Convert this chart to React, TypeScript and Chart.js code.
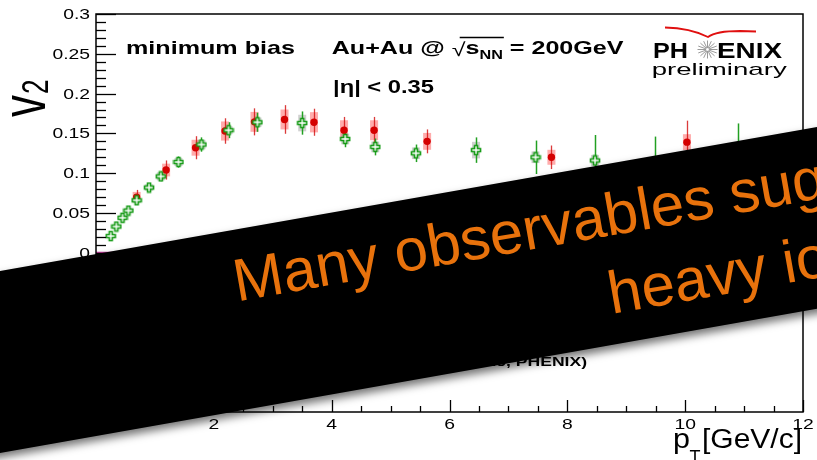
import React, { useEffect, useRef } from "react";
import { Chart, registerables } from "chart.js";
Chart.register(...registerables);

// ---- data ----
const redPt = [0.69, 1.19, 1.69, 2.19, 2.69, 3.2, 3.7, 4.21, 4.72, 5.62, 7.73, 10.03];
const redV2 = [0.07, 0.104, 0.132, 0.153, 0.1645, 0.1675, 0.164, 0.154, 0.154, 0.14, 0.12, 0.139];
const redStat = [0.009, 0.012, 0.0145, 0.016, 0.017, 0.018, 0.017, 0.0167, 0.0167, 0.015, 0.0148, 0.027];
const redSys = [0.0065, 0.008, 0.01, 0.012, 0.0125, 0.0125, 0.0127, 0.0125, 0.0125, 0.0106, 0.0094, 0.01];

const greenPt = [0.25, 0.345, 0.45, 0.55, 0.69, 0.9, 1.1, 1.4, 1.79, 2.25, 2.74, 3.5, 4.23, 4.74, 5.43, 6.45, 7.46, 8.47, 9.48, 10.9];
const greenV2 = [0.021, 0.033, 0.044, 0.053, 0.066, 0.082, 0.096, 0.114, 0.136, 0.154, 0.164, 0.163, 0.143, 0.133, 0.125, 0.129, 0.12, 0.116, 0.112, 0.115];
const greenStat = [0.003, 0.003, 0.003, 0.004, 0.004, 0.005, 0.006, 0.007, 0.009, 0.01, 0.012, 0.0146, 0.0104, 0.0106, 0.011, 0.016, 0.021, 0.032, 0.034, 0.0475];
const greenSys = [0.002, 0.002, 0.003, 0.003, 0.003, 0.004, 0.005, 0.005, 0.006, 0.005, 0.006, 0.0104, 0.0067, 0.0067, 0.0073, 0.0104, 0.0073, 0.007, 0.007, 0.007];

const xTicks = [0, 2, 4, 6, 8, 10, 12];
const xTickLabels = ["0", "2", "4", "6", "8", "10", "12"];
const yTicks = [-0.2, -0.15, -0.1, -0.05, 0, 0.05, 0.1, 0.15, 0.2, 0.25, 0.3];
const yTickLabels = ["-0.2", "-0.15", "-0.1", "-0.05", "0", "0.05", "0.1", "0.15", "0.2", "0.25", "0.3"];

const bannerLine1 = "Many observables suggest";
const bannerLine2 = "heavy ion collisions";

const FONT = "'Liberation Sans', Arial, Helvetica, sans-serif";
const SX = 1.38;

function stretchText(ctx: CanvasRenderingContext2D, text: string, x: number, y: number, font: string, sx: number, align: CanvasTextAlign = "left") {
  ctx.save();
  ctx.font = font;
  ctx.textAlign = align;
  ctx.textBaseline = "alphabetic";
  ctx.translate(x, y);
  ctx.scale(sx, 1);
  ctx.fillText(text, 0, 0);
  ctx.restore();
}

function fitText(ctx: CanvasRenderingContext2D, text: string, x: number, y: number, font: string, width: number) {
  ctx.save();
  ctx.font = font;
  const w = ctx.measureText(text).width;
  ctx.restore();
  stretchText(ctx, text, x, y, font, width / w, "left");
}

function makeCross(): HTMLCanvasElement {
  const c = document.createElement("canvas");
  c.width = 12;
  c.height = 12;
  const g = c.getContext("2d")!;
  const cx = 6, cy = 6, s = 4.5, a = 1.5;
  g.beginPath();
  g.moveTo(cx - a, cy - s);
  g.lineTo(cx + a, cy - s);
  g.lineTo(cx + a, cy - a);
  g.lineTo(cx + s, cy - a);
  g.lineTo(cx + s, cy + a);
  g.lineTo(cx + a, cy + a);
  g.lineTo(cx + a, cy + s);
  g.lineTo(cx - a, cy + s);
  g.lineTo(cx - a, cy + a);
  g.lineTo(cx - s, cy + a);
  g.lineTo(cx - s, cy - a);
  g.lineTo(cx - a, cy - a);
  g.closePath();
  g.fillStyle = "#ffffff";
  g.fill();
  g.strokeStyle = "#149a14";
  g.lineWidth = 1.6;
  g.stroke();
  return c;
}

const decor = {
  id: "decor",
  beforeDatasetsDraw(chart: any) {
    const { ctx, chartArea: a, scales } = chart;
    const xs = scales.x, ys = scales.y;
    ctx.save();
    // zero line
    ctx.strokeStyle = "#c0399a";
    ctx.lineWidth = 2;
    ctx.beginPath();
    ctx.moveTo(a.left, ys.getPixelForValue(0));
    ctx.lineTo(a.right, ys.getPixelForValue(0));
    ctx.stroke();
    const hw = 0.068;
    // systematic boxes
    const box = (pt: number[], v: number[], sys: number[], color: string) => {
      ctx.fillStyle = color;
      pt.forEach((p, i) => {
        const x0 = xs.getPixelForValue(p - hw), x1 = xs.getPixelForValue(p + hw);
        const y0 = ys.getPixelForValue(v[i] + sys[i]), y1 = ys.getPixelForValue(v[i] - sys[i]);
        ctx.fillRect(x0, y0, x1 - x0, y1 - y0);
      });
    };
    box(redPt, redV2, redSys, "rgba(255,90,90,0.5)");
    box(greenPt, greenV2, greenSys, "rgba(140,140,140,0.4)");
    const bars = (pt: number[], v: number[], st: number[], color: string, lw: number) => {
      ctx.strokeStyle = color;
      ctx.lineWidth = lw;
      pt.forEach((p, i) => {
        const x = Math.round(xs.getPixelForValue(p)) + 0.5;
        ctx.beginPath();
        ctx.moveTo(x, ys.getPixelForValue(v[i] + st[i]));
        ctx.lineTo(x, ys.getPixelForValue(v[i] - st[i]));
        ctx.stroke();
      });
    };
    bars(redPt, redV2, redStat, "rgba(210,10,10,0.8)", 1.3);
    bars(greenPt, greenV2, greenStat, "#22a022", 1.5);
    ctx.restore();
  },
  afterDatasetsDraw(chart: any) {
    const { ctx, chartArea: a, scales } = chart;
    const xs = scales.x, ys = scales.y;
    ctx.save();
    // frame
    ctx.strokeStyle = "#000";
    ctx.lineWidth = 1.5;
    ctx.strokeRect(a.left, a.top, a.right - a.left, a.bottom - a.top);
    // y ticks
    ctx.lineWidth = 1.3;
    for (let k = -20; k <= 30; k++) {
      const v = k / 100;
      const py = Math.round(ys.getPixelForValue(v)) + 0.5;
      const len = k % 5 === 0 ? 20 : 10;
      ctx.beginPath();
      ctx.moveTo(a.left, py);
      ctx.lineTo(a.left + len, py);
      ctx.stroke();
    }
    // x ticks
    for (let k = 0; k <= 24; k++) {
      const v = k / 2;
      const px = Math.round(xs.getPixelForValue(v)) + 0.5;
      const len = k % 4 === 0 ? 12 : 6;
      ctx.beginPath();
      ctx.moveTo(px, a.bottom);
      ctx.lineTo(px, a.bottom - len);
      ctx.stroke();
    }
    ctx.fillStyle = "#000";
    const tf = `14px ${FONT}`;
    yTicks.forEach((v, i) => {
      stretchText(ctx, yTickLabels[i], 90, ys.getPixelForValue(v) + 5, tf, SX, "right");
    });
    xTicks.forEach((v, i) => {
      stretchText(ctx, xTickLabels[i], xs.getPixelForValue(v), 428.5, tf, SX, "center");
    });
    // annotations
    const bf = `bold 18.6px ${FONT}`;
    fitText(ctx, "minimum bias", 126, 54, bf, 169);
    // Au+Au @ sqrt(s_NN) = 200GeV
    let x = 331.7;
    const seg = (t: string, font: string, y: number) => {
      ctx.font = font;
      const w = ctx.measureText(t).width * 1.35;
      stretchText(ctx, t, x, y, font, 1.35);
      x += w;
      return w;
    };
    seg("Au+Au @ ", bf, 54);
    const rx = x;
    seg("\u221A", `18.6px ${FONT}`, 56);
    seg("s", bf, 54);
    seg("NN", `bold 12px ${FONT}`, 59);
    ctx.lineWidth = 1.5;
    ctx.beginPath();
    ctx.moveTo(rx + 8, 37.5);
    ctx.lineTo(x + 1, 37.5);
    ctx.stroke();
    seg(" = 200GeV", bf, 54);
    fitText(ctx, "|\u03B7| < 0.35", 333, 93, bf, 101);
    // legend fragment (mostly hidden by the banner)
    stretchText(ctx, "(Run5, PHENIX)", 587, 366, `bold 13px ${FONT}`, 1.35, "right");
    // PHENIX logo
    fitText(ctx, "PH", 653, 57.5, `bold 22px ${FONT}`, 35);
    fitText(ctx, "ENIX", 717, 57.5, `bold 22px ${FONT}`, 65);
    ctx.strokeStyle = "#9a9a9a";
    ctx.lineWidth = 1;
    for (let k = 0; k < 16; k++) {
      const ang = (k * Math.PI) / 8;
      ctx.beginPath();
      ctx.moveTo(707.5 + 1.5 * Math.cos(ang), 49.5 + 1.5 * Math.sin(ang));
      ctx.lineTo(707.5 + 10 * Math.cos(ang), 49.5 + 9 * Math.sin(ang));
      ctx.stroke();
    }
    ctx.strokeStyle = "#e01010";
    ctx.lineWidth = 1.8;
    ctx.beginPath();
    ctx.moveTo(665, 27.5);
    ctx.quadraticCurveTo(690, 28, 708, 37);
    ctx.quadraticCurveTo(716, 31, 740, 31);
    ctx.lineTo(756, 31.5);
    ctx.stroke();
    fitText(ctx, "preliminary", 651.7, 75, `17px ${FONT}`, 135);
    // axis titles
    fitText(ctx, "p", 673, 448, `27px ${FONT}`, 17);
    fitText(ctx, "T", 689.5, 463, `18px ${FONT}`, 11);
    fitText(ctx, "[GeV/c]", 702, 448, `27px ${FONT}`, 100);
    ctx.save();
    ctx.translate(45, 117);
    ctx.rotate(-Math.PI / 2);
    ctx.scale(1, 1.45);
    ctx.font = `44px ${FONT}`;
    ctx.fillText("v", 0, 0);
    const vw = ctx.measureText("v").width;
    ctx.font = `26px ${FONT}`;
    ctx.fillText("2", vw + 1, 2);
    ctx.restore();
    ctx.restore();
  },
  afterDraw(chart: any) {
    const { ctx } = chart;
    ctx.save();
    const th = (-10 * Math.PI) / 180;
    ctx.rotate(th);
    ctx.shadowColor = "rgba(0,0,0,0.55)";
    ctx.shadowBlur = 9;
    ctx.shadowOffsetY = 5;
    ctx.fillStyle = "#000";
    ctx.fillRect(-300, 267, 1500, 179);
    ctx.shadowColor = "transparent";
    ctx.shadowBlur = 0;
    ctx.shadowOffsetY = 0;
    ctx.fillStyle = "#E8720C";
    ctx.font = `60px ${FONT}`;
    ctx.textBaseline = "alphabetic";
    ctx.fillText(bannerLine1, 181, 338);
    ctx.fillText(bannerLine2, 548, 415.5);
    ctx.restore();
  },
};

export default function App() {
  const ref = useRef<HTMLCanvasElement | null>(null);
  useEffect(() => {
    if (!ref.current) return;
    const cross = makeCross();
    const chart = new Chart(ref.current, {
      type: "scatter",
      data: {
        datasets: [
          {
            label: "red",
            data: redPt.map((p, i) => ({ x: p, y: redV2[i] })),
            pointStyle: "circle",
            pointRadius: 3.7,
            backgroundColor: "#d40000",
            borderColor: "#d40000",
            borderWidth: 0,
            order: 2,
          },
          {
            label: "green",
            data: greenPt.map((p, i) => ({ x: p, y: greenV2[i] })),
            pointStyle: cross as any,
            pointRadius: 5,
            order: 1,
          },
        ],
      },
      options: {
        responsive: false,
        animation: false,
        devicePixelRatio: 1,
        layout: { padding: { left: 96, right: 14, top: 14, bottom: 48 } },
        plugins: { legend: { display: false }, tooltip: { enabled: false } },
        scales: {
          x: { type: "linear", min: 0, max: 12, display: false },
          y: { type: "linear", min: -0.2, max: 0.3, display: false },
        },
      },
      plugins: [decor],
    });
    return () => chart.destroy();
  }, []);
  return (
    <div style={{ position: "fixed", left: 0, top: 0, width: 817, height: 460, background: "#fff" }}>
      <canvas ref={ref} width={817} height={460} style={{ display: "block" }} />
    </div>
  );
}
